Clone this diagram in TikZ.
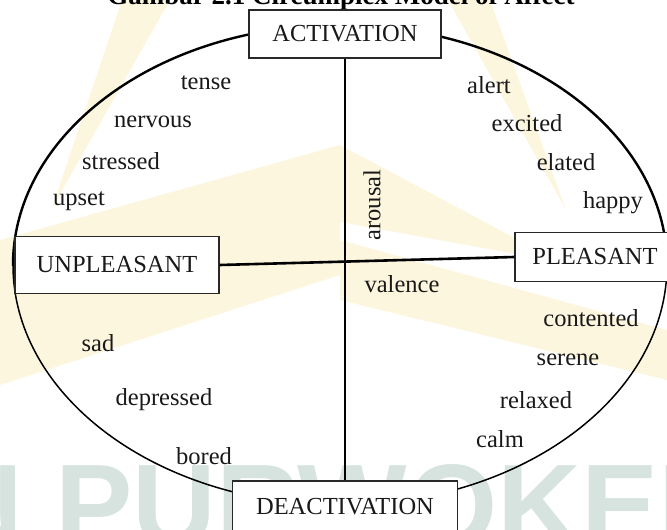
\documentclass[tikz,border=0pt]{standalone}
\usepackage{fontspec}
\setmainfont{Liberation Serif}
\newfontfamily\wmfont{Liberation Sans}
\definecolor{wmyellow}{RGB}{253,246,222}
\definecolor{wmteal}{RGB}{214,227,223}
\definecolor{boxline}{RGB}{40,40,40}
\begin{document}
\begin{tikzpicture}[x=1pt,y=-1pt,
  lbl/.style={font=\fontsize{24.5}{26}\selectfont, inner sep=0pt, text=black!90},
  axisbox/.style={draw=boxline, line width=1.2pt, fill=white, font=\fontsize{24.5}{26}\selectfont, inner sep=0pt, text=black!90},
  axisline/.style={line width=2.6pt, black},
]
\useasboundingbox (0,0) rectangle (667,530);
\begin{scope}
\clip (0,0) rectangle (667,530);
% watermark
\fill[wmyellow] (52,208) -- (122,0) -- (170,0) -- cycle;
\fill[wmyellow] (448,0) -- (490,0) -- (566,210) -- cycle;
\fill[wmyellow] (0,240) -- (340,145) -- (340,275) -- (0,385) -- cycle;
\fill[wmyellow] (340,145) -- (560,262) -- (340,222) -- cycle;
\fill[wmyellow] (340,240) -- (667,330) -- (667,380) -- (340,300) -- cycle;
\node[text=wmteal, font=\wmfont\bfseries\fontsize{116}{116}\selectfont, anchor=base west, inner sep=0pt] (wm) at (-177,545) {UIN PURWOKERTO};
% title
\node[font=\bfseries\fontsize{27}{29}\selectfont, anchor=base, inner sep=0pt] (title) at (341,5) {Gambar 2.1 Circumplex Model of Affect};
% ellipse
\begin{scope}
\clip (0,0) rectangle (667,265);
\draw[line width=2.4pt] (340,265) ellipse [x radius=327, y radius=240];
\end{scope}
\begin{scope}
\clip (0,265) rectangle (667,530);
\draw[line width=1.5pt] (340,265) ellipse [x radius=327, y radius=240];
\end{scope}
% boxes
\node[axisbox, minimum width=192pt, minimum height=48pt] (act) at (345,34) {ACTIVATION};
\node[axisbox, minimum width=225pt, minimum height=52pt] (deact) at (345,507) {DEACTIVATION};
\node[axisbox, minimum width=204pt, minimum height=57pt] (unpl) at (117,265) {UNPLEASANT};
\node[axisbox, minimum width=160pt, minimum height=49pt] (pleas) at (595,257) {PLEASANT};
% axes
\draw[axisline] (act.south) -- (deact.north);
\draw[axisline] (unpl.east) -- (pleas.west);
% axis labels
\node[lbl, rotate=90] (arousal) at (372,205) {arousal};
\node[lbl] (valence) at (402,284) {valence};
% affect words
\node[lbl] (tense) at (206,83) {tense};
\node[lbl] (nervous) at (153,122) {nervous};
\node[lbl] (stressed) at (121,161) {stressed};
\node[lbl] (upset) at (79,201) {upset};
\node[lbl] (alert) at (489,85) {alert};
\node[lbl] (excited) at (527,123) {excited};
\node[lbl] (elated) at (566,162) {elated};
\node[lbl] (happy) at (613,203) {happy};
\node[lbl] (contented) at (591,318) {contented};
\node[lbl] (serene) at (568,360) {serene};
\node[lbl] (relaxed) at (536,400) {relaxed};
\node[lbl] (calm) at (500,439) {calm};
\node[lbl] (sad) at (98,343) {sad};
\node[lbl] (depressed) at (164,400) {depressed};
\node[lbl] (bored) at (204,456) {bored};
\end{scope}
\end{tikzpicture}
\end{document}
